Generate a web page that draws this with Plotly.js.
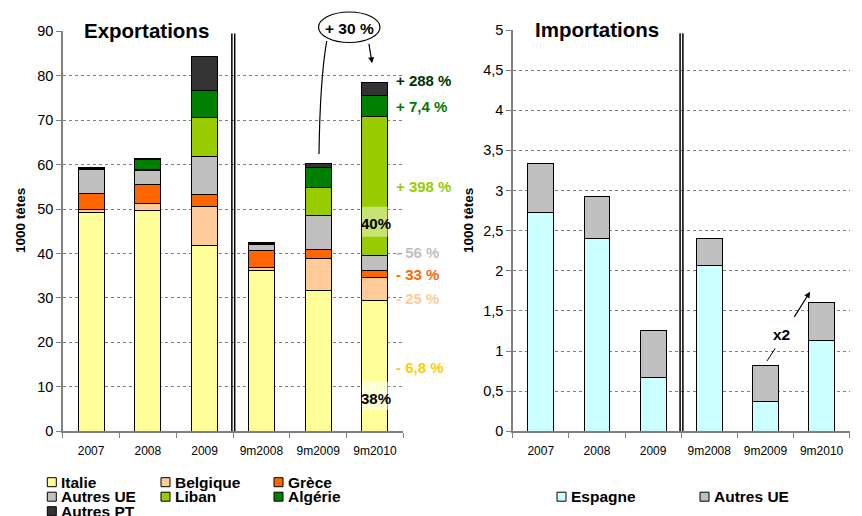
<!DOCTYPE html>
<html>
<head>
<meta charset="utf-8">
<script src="https://cdn.plot.ly/plotly-3.0.1.min.js"></script>
<style>html,body{margin:0;padding:0;background:#fff;}#chart{width:862px;height:516px;}</style>
</head>
<body>
<div id="chart"></div>
<script>
// ---------- DATA ----------
var categories = ['2007', '2008', '2009', '9m2008', '9m2009', '9m2010'];

// Exportations (1000 têtes)
var expNames = ['Italie', 'Belgique', 'Grèce', 'Autres UE', 'Liban', 'Algérie', 'Autres PT'];
var italie    = [49.3, 49.6, 41.8, 36.2, 31.6, 29.4];
var belgique  = [0.6, 1.7, 8.8, 0.7, 7.2, 5.3];
var grece     = [3.6, 4.3, 2.65, 3.8, 2.0, 1.4];
var autresUEx = [5.3, 3.0, 8.65, 1.4, 7.8, 3.4];
var liban     = [0.1, 0.4, 8.75, 0.0, 6.2, 31.3];
var algerie   = [0.2, 2.2, 6.0, 0.1, 4.6, 4.8];
var autresPT  = [0.3, 0.2, 7.65, 0.3, 0.9, 2.9];

// Importations (1000 têtes)
var impNames  = ['Espagne', 'Autres UE'];
var espagne   = [2.72, 2.40, 0.675, 2.07, 0.373, 1.13];
var autresUEi = [0.62, 0.52, 0.58, 0.33, 0.447, 0.477];

// Evolution labels 9m2010 / 9m2009
var evolLabels = ['- 6,8 %', '- 25 %', '- 33 %', '- 56 %', '+ 398 %', '+ 7,4 %', '+ 288 %'];
var evolY      = [14.3, 29.8, 35.2, 40.2, 55.0, 73.0, 79.0];
var evolColors = ['#FFCC00', '#FFCC99', '#FF6600', '#C0C0C0', '#99CC00', '#007A00', '#003300'];

var yTitle = '1000 têtes';

// ---------- STYLE ----------
var expColors = ['#FFFF99', '#FFCC99', '#FF6600', '#C0C0C0', '#99CC00', '#008000', '#333333'];
var impColors = ['#CCFFFF', '#C0C0C0'];
var FONT = 'Liberation Sans, Arial, sans-serif';
var W = 862, H = 516;
function px(x) { return x / W; }
function py(y) { return 1 - y / H; }

var expSeries = [italie, belgique, grece, autresUEx, liban, algerie, autresPT];
var impSeries = [espagne, autresUEi];

var traces = [];
expSeries.forEach(function (vals, i) {
  traces.push({
    type: 'bar', name: expNames[i], x: categories, y: vals,
    xaxis: 'x', yaxis: 'y', showlegend: false,
    marker: { color: expColors[i], line: { color: '#000', width: 1 } },
    hoverinfo: 'name+y'
  });
});
impSeries.forEach(function (vals, i) {
  traces.push({
    type: 'bar', name: impNames[i], x: categories, y: vals,
    xaxis: 'x2', yaxis: 'y2', showlegend: false,
    marker: { color: impColors[i], line: { color: '#000', width: 1 } },
    hoverinfo: 'name+y'
  });
});

var axisCommon = {
  showline: true, linecolor: '#808080', linewidth: 1.5,
  ticks: 'outside', ticklen: 5, tickcolor: '#808080', tickwidth: 1,
  fixedrange: true
};
function xAxis(domain, anchor) {
  return Object.assign({}, axisCommon, {
    domain: domain, anchor: anchor, type: 'category',
    range: [-0.5, 5.5], tickson: 'boundaries', ticklabelstandoff: 8,
    tickfont: { family: FONT, size: 12, color: '#000' },
    showgrid: false
  });
}
function yAxis(domain, anchor, range, dtick) {
  return Object.assign({}, axisCommon, {
    domain: domain, anchor: anchor, range: range, dtick: dtick,
    tickfont: { family: FONT, size: 14.5, color: '#000' },
    showgrid: true, gridcolor: '#808080', griddash: 'dot', gridwidth: 1,
    zeroline: false
  });
}

var shapes = [];
var annotations = [];

// y axis titles (placed as in the reference, slightly above the axis centre)
[20.3, 468.3].forEach(function (xc) {
  annotations.push({ xref: 'paper', yref: 'paper', x: px(xc), y: py(220.7), xanchor: 'center', yanchor: 'middle',
    text: '<b>' + yTitle + '</b>', textangle: -90, showarrow: false,
    font: { family: FONT, size: 13.5, color: '#000' } });
});

// separators (double vertical lines) between annual and 9-month data
[['x', 'y', 89.5], ['x2', 'y2', 4.96]].forEach(function (s) {
  [2.48, 2.53].forEach(function (xv) {
    shapes.push({ type: 'line', xref: s[0], yref: s[1], x0: xv, x1: xv, y0: 0, y1: s[2],
      line: { color: '#000', width: 1.5 } });
  });
});

// titles
annotations.push({ xref: 'paper', yref: 'paper', x: px(146), y: py(31), xanchor: 'center', yanchor: 'middle',
  text: '<b>Exportations</b>',
  showarrow: false, font: { family: FONT, size: 20.5, color: '#000' }, bgcolor: '#fff', borderpad: 6 });
annotations.push({ xref: 'paper', yref: 'paper', x: px(597), y: py(29.5), xanchor: 'center', yanchor: 'middle',
  text: '<b>Importations</b>',
  showarrow: false, font: { family: FONT, size: 20.5, color: '#000' }, bgcolor: '#fff', borderpad: 6 });

// evolution labels
evolLabels.forEach(function (t, i) {
  annotations.push({ xref: 'x', yref: 'y', x: 5.35, y: evolY[i], xanchor: 'left', yanchor: 'middle',
    text: '<b>' + t + '</b>',
    showarrow: false, font: { family: FONT, size: 15, color: evolColors[i] }, borderpad: 0 });
});

// share labels in 9m2010 bar
shapes.push({ type: 'rect', xref: 'x', yref: 'y', x0: 4.77, x1: 5.23, y0: 43.8, y1: 50.5, layer: 'above',
  fillcolor: 'rgba(255,255,255,0.45)', line: { width: 0 } });
shapes.push({ type: 'rect', xref: 'x', yref: 'y', x0: 4.77, x1: 5.23, y0: 4.8, y1: 11.2, layer: 'above',
  fillcolor: 'rgba(255,255,255,0.6)', line: { width: 0 } });
annotations.push({ xref: 'x', yref: 'y', x: 5.02, y: 46.8, xanchor: 'center', yanchor: 'middle',
  text: '<b>40%</b>', showarrow: false, font: { family: FONT, size: 15, color: '#000' } });
annotations.push({ xref: 'x', yref: 'y', x: 5.02, y: 7.4, xanchor: 'center', yanchor: 'middle',
  text: '<b>38%</b>', showarrow: false, font: { family: FONT, size: 15, color: '#000' } });

// + 30 % bubble
shapes.push({ type: 'circle', xref: 'paper', yref: 'paper', x0: px(318.5), x1: px(380), y0: py(42.5), y1: py(12),
  fillcolor: '#fff', line: { color: '#000', width: 1.2 } });
annotations.push({ xref: 'paper', yref: 'paper', x: px(349.2), y: py(28.5), xanchor: 'center', yanchor: 'middle',
  text: '<b>+ 30 %</b>', showarrow: false, font: { family: FONT, size: 15.5, color: '#000' } });
shapes.push({ type: 'path', xref: 'paper', yref: 'paper',
  path: 'M ' + px(326.7) + ' ' + py(41) + ' Q ' + px(320) + ' ' + py(80) + ' ' + px(319) + ' ' + py(154),
  line: { color: '#000', width: 1.2 } });
annotations.push({ xref: 'x', yref: 'y', x: 4.95, y: 82.8, ax: -3.4, ay: -21, text: '', showarrow: true,
  arrowhead: 2, arrowsize: 1, arrowwidth: 1.2, arrowcolor: '#000' });

// x2 imports
annotations.push({ xref: 'x2', yref: 'y2', x: 4.28, y: 1.21, xanchor: 'center', yanchor: 'middle',
  text: '<b>x2</b>', showarrow: false, font: { family: FONT, size: 15.5, color: '#000' } });
shapes.push({ type: 'line', xref: 'x2', yref: 'y2', x0: 4.027, y0: 0.876, x1: 4.174, y1: 1.034,
  line: { color: '#000', width: 1 } });
annotations.push({ xref: 'x2', yref: 'y2', x: 4.795, y: 1.739, ax: -16.7, ay: 26.6, text: '', showarrow: true,
  arrowhead: 2, arrowsize: 1, arrowwidth: 1.2, arrowcolor: '#000' });

// manual legends
function legendItem(name, color, sx, cy) {
  shapes.push({ type: 'rect', xref: 'paper', yref: 'paper', x0: px(sx), x1: px(sx + 9), y0: py(cy + 4.5), y1: py(cy - 4.5),
    fillcolor: color, line: { color: '#000', width: 1 } });
  annotations.push({ xref: 'paper', yref: 'paper', x: px(sx + 13), y: py(cy), xanchor: 'left', yanchor: 'middle',
    text: '<b>' + name + '</b>',
    showarrow: false, borderpad: 0, font: { family: FONT, size: 15.5, color: '#000' } });
}
var legCols = [47.3, 161, 274], legRows = [482.2, 496.7, 511.2];
expNames.forEach(function (n, i) {
  legendItem(n, expColors[i], legCols[i % 3], legRows[Math.floor(i / 3)]);
});
var impLegX = [557, 700];
impNames.forEach(function (n, i) { legendItem(n, impColors[i], impLegX[i], 496.7); });

var layout = {
  width: W, height: H,
  margin: { l: 0, r: 0, t: 0, b: 0 },
  paper_bgcolor: '#fff', plot_bgcolor: '#fff',
  barmode: 'stack', bargap: 0.54,
  separators: ', ',
  showlegend: false,
  font: { family: FONT, color: '#000' },
  xaxis: xAxis([px(62.7), px(403.3)], 'y'),
  yaxis: yAxis([py(431.3), py(31.3)], 'x', [0, 90], 10),
  xaxis2: xAxis([px(512.7), px(849.7)], 'y2'),
  yaxis2: yAxis([py(431.3), py(30)], 'x2', [0, 5], 0.5),
  shapes: shapes,
  annotations: annotations
};

Plotly.newPlot('chart', traces, layout, { displayModeBar: false, staticPlot: true });
</script>
</body>
</html>
